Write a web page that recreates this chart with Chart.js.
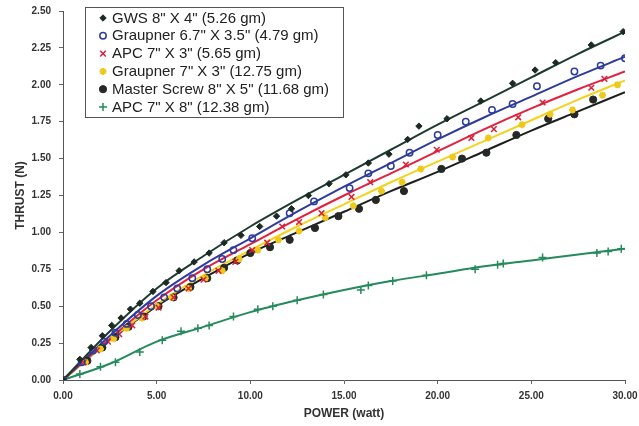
<!DOCTYPE html>
<html>
<head>
<meta charset="utf-8">
<script src="https://cdn.jsdelivr.net/npm/chart.js@4/dist/chart.umd.min.js"></script>
<style>
  body { margin: 0; background: #fff; }
  canvas { display: block; }
</style>
</head>
<body>
<canvas id="thrustChart" width="639" height="426"></canvas>
<script>
// measured points, power (watt) vs thrust (N)
const gwsX = [0, 0.9, 1.5, 2.1, 2.6, 3.1, 3.6, 4.1, 4.8, 5.5, 6.2, 7.0, 7.8, 8.6, 9.5, 10.5, 11.4, 12.2, 13.1, 14.2, 15.1, 16.3, 17.4, 18.4, 19.0, 20.5, 22.3, 24.0, 25.2, 26.3, 28.2, 29.9]
const gwsY = [0, 0.14, 0.22, 0.30, 0.37, 0.42, 0.48, 0.52, 0.60, 0.66, 0.74, 0.80, 0.86, 0.93, 0.98, 1.04, 1.11, 1.16, 1.25, 1.33, 1.39, 1.47, 1.53, 1.63, 1.72, 1.77, 1.89, 2.01, 2.10, 2.15, 2.27, 2.36]

const grp67X = [0, 1.0, 1.6, 2.2, 2.8, 3.4, 4.0, 4.7, 5.4, 6.1, 6.9, 7.7, 8.5, 9.1, 10.1, 12.1, 13.4, 15.3, 16.3, 17.5, 18.5, 20.0, 21.5, 22.9, 24.0, 25.3, 27.3, 28.7, 30.0]
const grp67Y = [0, 0.12, 0.20, 0.26, 0.32, 0.38, 0.44, 0.50, 0.56, 0.62, 0.69, 0.75, 0.82, 0.88, 0.96, 1.13, 1.21, 1.30, 1.40, 1.45, 1.54, 1.66, 1.75, 1.83, 1.87, 1.99, 2.09, 2.13, 2.18]

const apc73X = [0, 1.1, 1.8, 2.4, 3.0, 3.7, 4.4, 5.1, 5.9, 6.7, 7.5, 8.3, 9.2, 10.1, 10.9, 11.7, 12.6, 13.8, 15.4, 16.4, 18.3, 19.95, 21.8, 23.0, 24.3, 25.6, 28.2, 28.9]
const apc73Y = [0, 0.12, 0.20, 0.26, 0.31, 0.37, 0.43, 0.49, 0.56, 0.62, 0.68, 0.74, 0.80, 0.88, 0.93, 1.04, 1.07, 1.13, 1.24, 1.34, 1.46, 1.56, 1.64, 1.70, 1.78, 1.88, 1.98, 2.04]

const grp73X = [0, 1.2, 2.0, 2.7, 3.4, 4.2, 5.0, 5.8, 6.7, 7.6, 8.5, 9.4, 10.4, 11.5, 12.6, 14.0, 15.5, 17.0, 18.1, 19.1, 20.8, 22.7, 24.5, 26.0, 27.2, 28.8, 29.6]
const grp73Y = [0, 0.12, 0.21, 0.28, 0.35, 0.42, 0.50, 0.56, 0.62, 0.69, 0.74, 0.82, 0.88, 0.95, 1.01, 1.10, 1.18, 1.28, 1.34, 1.43, 1.51, 1.64, 1.73, 1.80, 1.83, 1.93, 2.00]

const masterX = [0, 1.3, 2.1, 2.8, 3.5, 4.3, 5.1, 5.9, 6.8, 7.7, 8.6, 9.3, 10.0, 11.05, 12.1, 13.45, 14.7, 15.8, 16.7, 18.2, 20.2, 21.3, 22.6, 24.2, 25.9, 27.3, 28.3]
const masterY = [0, 0.13, 0.22, 0.29, 0.36, 0.43, 0.50, 0.56, 0.63, 0.69, 0.76, 0.81, 0.86, 0.90, 0.95, 1.03, 1.11, 1.16, 1.22, 1.28, 1.43, 1.50, 1.54, 1.66, 1.77, 1.80, 1.90]

const apc78X = [0, 0.9, 2.0, 2.8, 4.1, 5.3, 6.3, 7.2, 7.8, 9.1, 10.4, 11.2, 12.5, 13.9, 15.9, 16.3, 17.6, 19.4, 22.0, 23.2, 23.5, 25.6, 28.5, 29.1, 29.8]
const apc78Y = [0, 0.04, 0.09, 0.12, 0.19, 0.27, 0.33, 0.35, 0.37, 0.43, 0.48, 0.50, 0.54, 0.58, 0.61, 0.64, 0.67, 0.71, 0.75, 0.78, 0.79, 0.83, 0.86, 0.87, 0.89]

// trend curves, read every 2.5 W
const fitX = [0, 2.5, 5, 7.5, 10, 12.5, 15, 17.5, 20, 22.5, 25, 27.5, 30]
const gwsFit = [0, 0.33, 0.62, 0.84, 1.04, 1.22, 1.39, 1.56, 1.73, 1.89, 2.05, 2.21, 2.36]
const grp67Fit = [0, 0.30, 0.57, 0.78, 0.96, 1.14, 1.31, 1.47, 1.63, 1.78, 1.92, 2.06, 2.19]
const apc73Fit = [0, 0.28, 0.54, 0.75, 0.92, 1.09, 1.25, 1.40, 1.55, 1.70, 1.84, 1.97, 2.09]
const grp73Fit = [0, 0.27, 0.51, 0.71, 0.88, 1.04, 1.19, 1.34, 1.48, 1.62, 1.76, 1.90, 2.03]
const masterFit = [0, 0.27, 0.50, 0.69, 0.86, 1.00, 1.14, 1.28, 1.41, 1.55, 1.69, 1.82, 1.95]
const apc78Fit = [0, 0.11, 0.26, 0.36, 0.46, 0.54, 0.61, 0.67, 0.72, 0.77, 0.81, 0.85, 0.89]

const xTicks = [0, 5, 10, 15, 20, 25, 30]
const yTicks = [0, 0.25, 0.5, 0.75, 1, 1.25, 1.5, 1.75, 2, 2.25, 2.5]

const propNames = [
  'GWS 8" X 4" (5.26 gm)',
  'Graupner 6.7" X 3.5" (4.79 gm)',
  'APC 7" X 3" (5.65 gm)',
  'Graupner 7" X 3" (12.75 gm)',
  'Master Screw 8" X 5" (11.68 gm)',
  'APC 7" X 8" (12.38 gm)'
]

const series = [
  { xs: gwsX, ys: gwsY, fit: gwsFit, line: '#1e3b30', mark: '#1c2a24', fill: '#1c2a24', style: 'rectRot', r: 3.2, bw: 1 },
  { xs: grp67X, ys: grp67Y, fit: grp67Fit, line: '#2d3c9c', mark: '#2d3c9c', fill: 'rgba(255,255,255,0)', style: 'circle', r: 3.2, bw: 1.5 },
  { xs: apc73X, ys: apc73Y, fit: apc73Fit, line: '#e3203e', mark: '#d9203a', fill: '#d9203a', style: 'crossRot', r: 4, bw: 1.5 },
  { xs: grp73X, ys: grp73Y, fit: grp73Fit, line: '#f4d21c', mark: '#eec81a', fill: '#eec81a', style: 'star', r: 3.5, bw: 2 },
  { xs: masterX, ys: masterY, fit: masterFit, line: '#1b1f1d', mark: '#262826', fill: '#262826', style: 'circle', r: 3.6, bw: 1 },
  { xs: apc78X, ys: apc78Y, fit: apc78Fit, line: '#258a5c', mark: '#258a5c', fill: '#258a5c', style: 'cross', r: 4, bw: 1.5 }
]

function pairs(xs, ys) {
  return xs.map((x, i) => ({ x: x, y: ys[i] }))
}

const datasets = []
series.forEach((s, i) => {
  datasets.push({
    label: propNames[i] + ' fit',
    data: pairs(fitX, s.fit),
    showLine: true,
    borderColor: s.line,
    borderWidth: 2,
    pointRadius: 0,
    cubicInterpolationMode: 'monotone',
    order: 2
  })
  datasets.push({
    label: propNames[i],
    data: pairs(s.xs, s.ys),
    showLine: false,
    pointStyle: s.style,
    pointRadius: s.r,
    pointBorderWidth: s.bw,
    pointBorderColor: s.mark,
    pointBackgroundColor: s.fill,
    order: 1
  })
})

// boxed legend sitting inside the plot, top left
const boxLegend = {
  id: 'boxLegend',
  afterDraw(chart) {
    const ctx = chart.ctx
    const left = 85, top = 7, w = 258, h = 110
    ctx.save()
    ctx.fillStyle = '#fff'
    ctx.fillRect(left, top, w, h)
    ctx.strokeStyle = '#555'
    ctx.lineWidth = 1
    ctx.strokeRect(left + 0.5, top + 0.5, w, h)
    ctx.font = '15px "Liberation Sans", Arial, sans-serif'
    ctx.textBaseline = 'middle'
    series.forEach((s, i) => {
      const y = 18 + i * 17.8
      ctx.fillStyle = s.fill
      ctx.strokeStyle = s.mark
      ctx.lineWidth = s.bw
      Chart.helpers.drawPoint(ctx, { pointStyle: s.style, radius: s.r, borderWidth: s.bw }, 103, y)
      ctx.fillStyle = '#222'
      ctx.fillText(propNames[i], 112, y + 0.5)
    })
    ctx.restore()
  }
}

const tickFont = { family: '"Liberation Sans", Arial, sans-serif', size: 10, weight: 'bold' }
const titleFont = { family: '"Liberation Sans", Arial, sans-serif', size: 12, weight: 'bold' }

new Chart(document.getElementById('thrustChart'), {
  type: 'scatter',
  data: { datasets: datasets },
  options: {
    responsive: false,
    animation: false,
    layout: { padding: { top: 11, right: 14, left: 0, bottom: 0 } },
    plugins: { legend: { display: false }, tooltip: { enabled: false } },
    scales: {
      x: {
        type: 'linear',
        min: 0,
        max: 30,
        afterBuildTicks: (axis) => { axis.ticks = xTicks.map(v => ({ value: v })) },
        afterFit: (axis) => { axis.height = 46; axis.paddingLeft = 0; axis.paddingRight = 0 },
        ticks: { font: tickFont, color: '#333', padding: 6, callback: (v) => v.toFixed(2) },
        grid: { drawOnChartArea: false, drawTicks: true, tickLength: 4, color: '#666' },
        border: { color: '#555', width: 1 },
        title: { display: true, text: 'POWER (watt)', font: titleFont, color: '#333', padding: { top: 0, bottom: 5 } }
      },
      y: {
        type: 'linear',
        min: 0,
        max: 2.5,
        afterBuildTicks: (axis) => { axis.ticks = yTicks.map(v => ({ value: v })) },
        afterFit: (axis) => { axis.width = 63; axis.paddingTop = 0; axis.paddingBottom = 0 },
        ticks: { font: tickFont, color: '#333', padding: 8, callback: (v) => v.toFixed(2) },
        grid: { drawOnChartArea: false, drawTicks: true, tickLength: 4, color: '#666' },
        border: { color: '#555', width: 1 },
        title: { display: true, text: 'THRUST (N)', font: titleFont, color: '#333', padding: { top: 13, bottom: 0 } }
      }
    }
  },
  plugins: [boxLegend]
})
</script>
</body>
</html>
